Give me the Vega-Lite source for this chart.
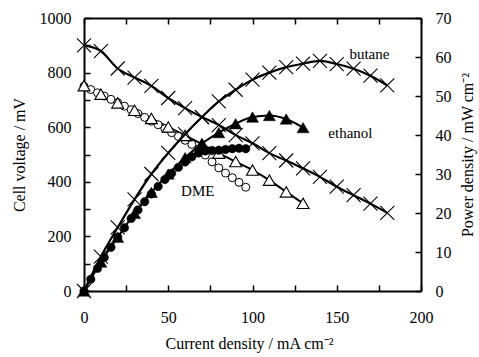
{
  "$schema": "https://vega.github.io/schema/vega-lite/v6.json",
  "width": 337,
  "height": 273,
  "autosize": {"type": "none"},
  "padding": {"left": 84, "top": 18, "right": 58, "bottom": 66},
  "background": "white",
  "config": {
    "view": {"stroke": null},
    "font": "Liberation Serif",
    "axis": {
      "grid": false,
      "domainColor": "black",
      "domainWidth": 2,
      "tickColor": "black",
      "tickWidth": 1.5,
      "tickSize": -6,
      "labelColor": "black",
      "labelFontSize": 16,
      "labelFont": "Liberation Serif",
      "labelFlush": false,
      "labelOverlap": false,
      "titleColor": "black",
      "titleFont": "Liberation Serif",
      "titleFontSize": 16,
      "titleFontWeight": "normal"
    }
  },
  "datasets": {
    "fuel": [
      {"fuel": "butane", "I": 0, "V": 900, "P": 0},
      {"fuel": "butane", "I": 10, "V": 879, "P": 8.8},
      {"fuel": "butane", "I": 20, "V": 815, "P": 16.3},
      {"fuel": "butane", "I": 30, "V": 782, "P": 23.5},
      {"fuel": "butane", "I": 40, "V": 751, "P": 30.0},
      {"fuel": "butane", "I": 50, "V": 707, "P": 35.4},
      {"fuel": "butane", "I": 60, "V": 670, "P": 40.2},
      {"fuel": "butane", "I": 70, "V": 637, "P": 44.6},
      {"fuel": "butane", "I": 80, "V": 608, "P": 48.6},
      {"fuel": "butane", "I": 90, "V": 571, "P": 51.6},
      {"fuel": "butane", "I": 100, "V": 541, "P": 54.2},
      {"fuel": "butane", "I": 110, "V": 505, "P": 56.0},
      {"fuel": "butane", "I": 120, "V": 478, "P": 57.4},
      {"fuel": "butane", "I": 130, "V": 449, "P": 58.3},
      {"fuel": "butane", "I": 140, "V": 418, "P": 59.0},
      {"fuel": "butane", "I": 150, "V": 382, "P": 58.2},
      {"fuel": "butane", "I": 160, "V": 351, "P": 57.0},
      {"fuel": "butane", "I": 170, "V": 320, "P": 55.2},
      {"fuel": "butane", "I": 180, "V": 286, "P": 52.7},
      {"fuel": "ethanol", "I": 0, "V": 752, "P": 0},
      {"fuel": "ethanol", "I": 10, "V": 721, "P": 7.4},
      {"fuel": "ethanol", "I": 20, "V": 689, "P": 13.8},
      {"fuel": "ethanol", "I": 30, "V": 662, "P": 19.9},
      {"fuel": "ethanol", "I": 40, "V": 632, "P": 25.3},
      {"fuel": "ethanol", "I": 50, "V": 601, "P": 30.0},
      {"fuel": "ethanol", "I": 60, "V": 570, "P": 34.2},
      {"fuel": "ethanol", "I": 70, "V": 538, "P": 37.8},
      {"fuel": "ethanol", "I": 80, "V": 505, "P": 40.6},
      {"fuel": "ethanol", "I": 90, "V": 474, "P": 42.9},
      {"fuel": "ethanol", "I": 100, "V": 443, "P": 44.6},
      {"fuel": "ethanol", "I": 110, "V": 406, "P": 45.0},
      {"fuel": "ethanol", "I": 120, "V": 363, "P": 44.1},
      {"fuel": "ethanol", "I": 130, "V": 321, "P": 41.9},
      {"fuel": "DME", "I": 0, "V": 750, "P": 0},
      {"fuel": "DME", "I": 4, "V": 738, "P": 3.0},
      {"fuel": "DME", "I": 8, "V": 726, "P": 5.8},
      {"fuel": "DME", "I": 12, "V": 714, "P": 8.6},
      {"fuel": "DME", "I": 16, "V": 702, "P": 11.2},
      {"fuel": "DME", "I": 20, "V": 690, "P": 13.8},
      {"fuel": "DME", "I": 24, "V": 677, "P": 16.2},
      {"fuel": "DME", "I": 28, "V": 664, "P": 18.6},
      {"fuel": "DME", "I": 32, "V": 650, "P": 20.8},
      {"fuel": "DME", "I": 36, "V": 636, "P": 22.9},
      {"fuel": "DME", "I": 40, "V": 622, "P": 24.9},
      {"fuel": "DME", "I": 44, "V": 609, "P": 26.8},
      {"fuel": "DME", "I": 48, "V": 595, "P": 28.6},
      {"fuel": "DME", "I": 52, "V": 580, "P": 30.2},
      {"fuel": "DME", "I": 56, "V": 566, "P": 31.7},
      {"fuel": "DME", "I": 60, "V": 552, "P": 33.1},
      {"fuel": "DME", "I": 64, "V": 537, "P": 34.4},
      {"fuel": "DME", "I": 68, "V": 520, "P": 35.4},
      {"fuel": "DME", "I": 72, "V": 498, "P": 35.9},
      {"fuel": "DME", "I": 76, "V": 473, "P": 36.0},
      {"fuel": "DME", "I": 80, "V": 451, "P": 36.1},
      {"fuel": "DME", "I": 84, "V": 432, "P": 36.3},
      {"fuel": "DME", "I": 88, "V": 415, "P": 36.5},
      {"fuel": "DME", "I": 92, "V": 398, "P": 36.6},
      {"fuel": "DME", "I": 96, "V": 380, "P": 36.5}
    ]
  },
  "layer": [
    {
      "data": {"name": "fuel"},
      "encoding": {
        "x": {
          "field": "I", "type": "quantitative",
          "scale": {"domain": [0, 200], "nice": false, "zero": false},
          "axis": {
            "orient": "bottom",
            "values": [0, 25, 50, 75, 100, 125, 150, 175, 200],
            "labelExpr": "datum.value % 50 === 0 ? '' + datum.value : ''",
            "labelPadding": 24,
            "title": "Current density / mA cm⁻²",
            "titleX": 165,
            "titleY": 52,
            "titleBaseline": "middle",
            "titleAlign": "center"
          }
        },
        "y": {
          "field": "V", "type": "quantitative",
          "scale": {"domain": [0, 1000], "nice": false},
          "axis": {
            "orient": "left",
            "values": [0, 100, 200, 300, 400, 500, 600, 700, 800, 900, 1000],
            "labelExpr": "datum.value % 200 === 0 ? '' + datum.value : ''",
            "labelPadding": 19,
            "title": "Cell voltage / mV",
            "titleAngle": -90,
            "titleX": -65,
            "titleY": 136.5,
            "titleBaseline": "middle",
            "titleAlign": "center"
          }
        }
      },
      "layer": [
        {
          "transform": [{"filter": "datum.fuel === 'butane'"}],
          "mark": {"type": "line", "color": "black", "strokeWidth": 2.2, "interpolate": "monotone"}
        },
        {
          "transform": [{"filter": "datum.fuel === 'ethanol'"}],
          "mark": {"type": "line", "color": "black", "strokeWidth": 2, "interpolate": "monotone"}
        },
        {
          "transform": [{"filter": "datum.fuel === 'butane'"}],
          "mark": {"type": "point", "shape": "M-1,-1L1,1M-1,1L1,-1", "size": 196, "filled": false, "stroke": "black", "strokeWidth": 1.1, "opacity": 1}
        },
        {
          "transform": [{"filter": "datum.fuel === 'DME'"}],
          "mark": {"type": "point", "shape": "circle", "size": 64, "filled": true, "fill": "white", "stroke": "black", "strokeWidth": 1, "opacity": 1}
        },
        {
          "transform": [{"filter": "datum.fuel === 'ethanol'"}],
          "mark": {"type": "point", "shape": "triangle-up", "size": 144, "filled": true, "fill": "white", "stroke": "black", "strokeWidth": 1.1, "opacity": 1}
        },
        {
          "data": {"values": [{"label": "DME", "I": 67.5, "V": 366}]},
          "mark": {"type": "text", "fontSize": 15, "font": "Liberation Serif", "color": "black", "align": "center", "baseline": "middle"},
          "encoding": {"text": {"field": "label", "type": "nominal"}}
        }
      ]
    },
    {
      "data": {"name": "fuel"},
      "encoding": {
        "x": {
          "field": "I", "type": "quantitative",
          "scale": {"domain": [0, 200], "nice": false, "zero": false},
          "axis": {
            "orient": "top",
            "values": [0, 25, 50, 75, 100, 125, 150, 175, 200],
            "labels": false,
            "title": null
          }
        },
        "y": {
          "field": "P", "type": "quantitative",
          "scale": {"domain": [0, 70], "nice": false},
          "axis": {
            "orient": "right",
            "values": [0, 10, 20, 30, 40, 50, 60, 70],
            "labelPadding": 20,
            "title": "Power density / mW cm⁻²",
            "titleAngle": -90,
            "titleX": 46,
            "titleY": 136.5,
            "titleBaseline": "middle",
            "titleAlign": "center"
          }
        }
      },
      "layer": [
        {
          "transform": [{"filter": "datum.fuel === 'butane'"}],
          "mark": {"type": "line", "color": "black", "strokeWidth": 2.2, "interpolate": "monotone"}
        },
        {
          "transform": [{"filter": "datum.fuel === 'ethanol'"}],
          "mark": {"type": "line", "color": "black", "strokeWidth": 2, "interpolate": "monotone"}
        },
        {
          "transform": [{"filter": "datum.fuel === 'butane'"}],
          "mark": {"type": "point", "shape": "M-1,-1L1,1M-1,1L1,-1", "size": 196, "filled": false, "stroke": "black", "strokeWidth": 1.1, "opacity": 1}
        },
        {
          "transform": [{"filter": "datum.fuel === 'DME'"}],
          "mark": {"type": "point", "shape": "circle", "size": 72, "filled": true, "fill": "black", "stroke": "black", "strokeWidth": 0.5, "opacity": 1}
        },
        {
          "transform": [{"filter": "datum.fuel === 'ethanol'"}],
          "mark": {"type": "point", "shape": "triangle-up", "size": 144, "filled": true, "fill": "black", "stroke": "black", "strokeWidth": 0.5, "opacity": 1}
        },
        {
          "data": {"values": [{"label": "butane", "I": 157.5, "P": 60.8}, {"label": "ethanol", "I": 145, "P": 40.6}]},
          "mark": {"type": "text", "fontSize": 15, "font": "Liberation Serif", "color": "black", "align": "left", "baseline": "middle"},
          "encoding": {"text": {"field": "label", "type": "nominal"}}
        }
      ]
    }
  ],
  "resolve": {"scale": {"y": "independent"}, "axis": {"x": "independent"}}
}
